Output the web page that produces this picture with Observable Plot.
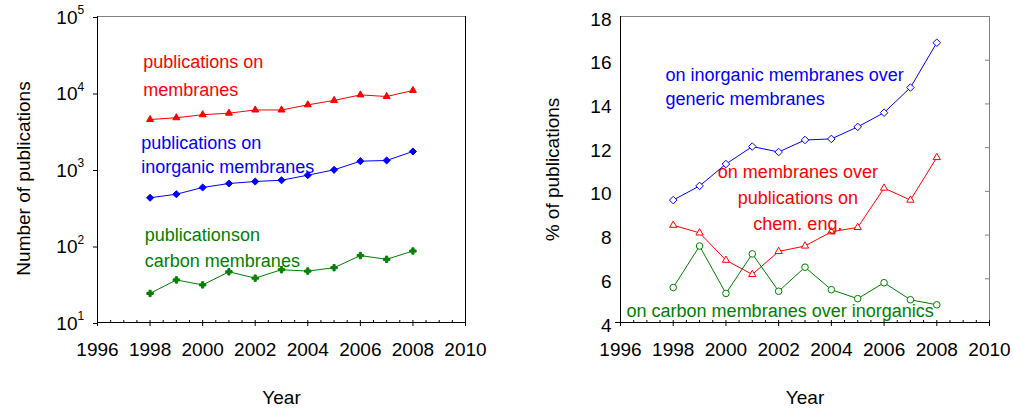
<!DOCTYPE html>
<html>
<head>
<meta charset="utf-8">
<script src="https://cdn.jsdelivr.net/npm/d3@7"></script>
<script src="https://cdn.jsdelivr.net/npm/@observablehq/plot@0.6"></script>
<style>
  html, body { margin: 0; padding: 0; background: #fff; }
  #wrap { position: relative; width: 1013px; height: 410px; overflow: hidden; }
  #left { position: absolute; left: 0; top: 0; }
  #right { position: absolute; left: 500px; top: 0; }
</style>
</head>
<body>
<div id="wrap"><div id="left"></div><div id="right"></div></div>
<script>
// Publication years
const years = [1998, 1999, 2000, 2001, 2002, 2003, 2004, 2005, 2006, 2007, 2008];

// Number of publications per year
const pubMembranes = [4500, 4750, 5200, 5450, 6000, 6000, 7000, 8000, 9450, 9000, 10800];
const pubInorganic = [427, 475, 582, 656, 697, 724, 843, 990, 1285, 1312, 1720];
const pubCarbon = [24, 36, 31, 46, 38, 49, 47, 52, 75, 67, 86];

// Shares (%)
const pctInorganicOverMembranes = [9.6, 10.25, 11.25, 12.05, 11.8, 12.35, 12.4, 12.95, 13.6, 14.75, 16.8];
const pctMembranesOverChemEng = [8.45, 8.1, 6.85, 6.2, 7.25, 7.5, 8.15, 8.35, 10.15, 9.6, 11.55];
const pctCarbonOverInorganic = [5.6, 7.5, 5.33, 7.14, 5.43, 6.53, 5.5, 5.09, 5.82, 5.04, 4.81];

// Axis ticks
const yearTicks = [1996, 1998, 2000, 2002, 2004, 2006, 2008, 2010];
const halfYearTicks = d3.range(1996, 2010.01, 0.5);
const countTicks = [10, 100, 1000, 10000, 100000];
const pctTicks = [4, 6, 8, 10, 12, 14, 16, 18];

// Labels
const countLabels = ["publications on\nmembranes", "publications on\ninorganic membranes", "publicationson\ncarbon membranes"];
const pctLabels = ["on inorganic membranes over\ngeneric membranes", "on membranes over\npublications on\nchem. eng.", "on carbon membranes over inorganics"];

const RED = "#ff0000", BLUE = "#0000ff", GREEN = "#008000", GRAY = "#808080";
const FONT = "'Liberation Sans', Arial, Helvetica, sans-serif";

const baseStyle = {fontFamily: FONT, fontSize: "19px", color: "black", background: "white", overflow: "visible"};

// Left panel: absolute counts on a log scale
const left = Plot.plot({
  width: 500, height: 410,
  marginLeft: 97, marginRight: 35, marginTop: 16, marginBottom: 88,
  style: baseStyle,
  x: {domain: [1996, 2010]},
  y: {type: "log", domain: [10, 100000]},
  marks: [
    Plot.ruleY([100000], {stroke: GRAY}),
    Plot.ruleX([2010], {stroke: "black"}),
    Plot.ruleX([1996], {stroke: "black"}),
    Plot.ruleY([10], {stroke: "black"}),
    Plot.ruleX(halfYearTicks, {x: d => d, insetTop: 304, stroke: "black"}),
    Plot.axisX({ticks: yearTicks, tickSize: 4, tickPadding: 15.5, tickFormat: d => String(d), label: null, fontSize: 19}),
    Plot.axisY({ticks: countTicks, tickSize: 4, tickPadding: 16, tickFormat: () => "10", label: null, fontSize: 19, dy: 1}),
    Plot.text(countTicks, {y: d => d, frameAnchor: "left", text: d => String(Math.round(Math.log10(d))), textAnchor: "start", dx: -20, dy: -6, fontSize: 12}),
    Plot.text(["Number of publications"], {frameAnchor: "left", textAnchor: "middle", rotate: -90, dx: -74, dy: 9, fontSize: 19}),
    Plot.text(["Year"], {frameAnchor: "bottom", textAnchor: "middle", dy: 81, fontSize: 19}),

    Plot.lineY(pubMembranes, {x: years, stroke: RED, strokeWidth: 1}),
    Plot.dot(pubMembranes, {x: years, y: d => d, symbol: "triangle", r: 2.6, fill: RED, stroke: RED, strokeWidth: 1}),
    Plot.lineY(pubInorganic, {x: years, stroke: BLUE, strokeWidth: 1}),
    Plot.dot(pubInorganic, {x: years, y: d => d, symbol: "diamond2", r: 3.2, fill: BLUE, stroke: BLUE, strokeWidth: 1}),
    Plot.lineY(pubCarbon, {x: years, stroke: GREEN, strokeWidth: 1}),
    Plot.dot(pubCarbon, {x: years, y: d => d, symbol: "cross", r: 2.7, fill: GREEN, stroke: GREEN, strokeWidth: 1}),

    Plot.text([countLabels[0]], {x: 1997.74, y: 9270, text: d => d, textAnchor: "start", lineAnchor: "bottom", lineHeight: 1.556, fill: RED, fontSize: 18}),
    Plot.text([countLabels[1]], {x: 1997.66, y: 887, text: d => d, textAnchor: "start", lineAnchor: "bottom", lineHeight: 1.36, fill: BLUE, fontSize: 18}),
    Plot.text([countLabels[2]], {x: 1997.8, y: 52.8, text: d => d, textAnchor: "start", lineAnchor: "bottom", lineHeight: 1.48, fill: GREEN, fontSize: 18})
  ]
});

// Right panel: relative shares in percent
const right = Plot.plot({
  width: 513, height: 410,
  marginLeft: 120, marginRight: 24, marginTop: 16, marginBottom: 88,
  style: baseStyle,
  x: {domain: [1996, 2010]},
  y: {domain: [4, 18]},
  marks: [
    Plot.ruleY([18], {stroke: GRAY}),
    Plot.ruleX([2010], {stroke: GRAY}),
    Plot.ruleY(pctTicks.slice(1, -1), {y: d => d, insetLeft: 365, stroke: GRAY}),
    Plot.ruleX([1996], {stroke: "black"}),
    Plot.ruleY([4], {stroke: "black", insetLeft: -5}),
    Plot.ruleX(halfYearTicks, {x: d => d, insetTop: 304, stroke: "black"}),
    Plot.axisX({ticks: yearTicks, tickSize: 4, tickPadding: 15.5, tickFormat: d => String(d), label: null, fontSize: 19}),
    Plot.axisY({ticks: pctTicks, tickSize: 0, tickPadding: 9, tickFormat: d => String(d), label: null, fontSize: 19, dy: 3}),
    Plot.text(["% of publications"], {frameAnchor: "left", textAnchor: "middle", rotate: -90, dx: -68, dy: 0, fontSize: 19}),
    Plot.text(["Year"], {frameAnchor: "bottom", textAnchor: "middle", dy: 81, fontSize: 19}),

    Plot.lineY(pctInorganicOverMembranes, {x: years, stroke: BLUE, strokeWidth: 1}),
    Plot.dot(pctInorganicOverMembranes, {x: years, y: d => d, symbol: "diamond2", r: 3.4, fill: "white", stroke: BLUE, strokeWidth: 1}),
    Plot.lineY(pctMembranesOverChemEng, {x: years, stroke: RED, strokeWidth: 1}),
    Plot.dot(pctMembranesOverChemEng, {x: years, y: d => d, symbol: "triangle", r: 2.7, fill: "white", stroke: RED, strokeWidth: 1}),
    Plot.lineY(pctCarbonOverInorganic, {x: years, stroke: GREEN, strokeWidth: 1}),
    Plot.dot(pctCarbonOverInorganic, {x: years, y: d => d, symbol: "circle", r: 3.3, fill: "white", stroke: GREEN, strokeWidth: 1}),

    Plot.text([pctLabels[0]], {x: 1997.71, y: 13.97, text: d => d, textAnchor: "start", lineAnchor: "bottom", lineHeight: 1.33, fill: BLUE, fontSize: 18}),
    Plot.text([pctLabels[1]], {x: 2002.73, y: 8.21, text: d => d, textAnchor: "middle", lineAnchor: "bottom", lineHeight: 1.47, fill: RED, fontSize: 18}),
    Plot.text([pctLabels[2]], {x: 1996.23, y: 4.23, text: d => d, textAnchor: "start", lineAnchor: "bottom", fill: GREEN, fontSize: 18})
  ]
});

document.getElementById("left").appendChild(left);
document.getElementById("right").appendChild(right);
</script>
</body>
</html>
